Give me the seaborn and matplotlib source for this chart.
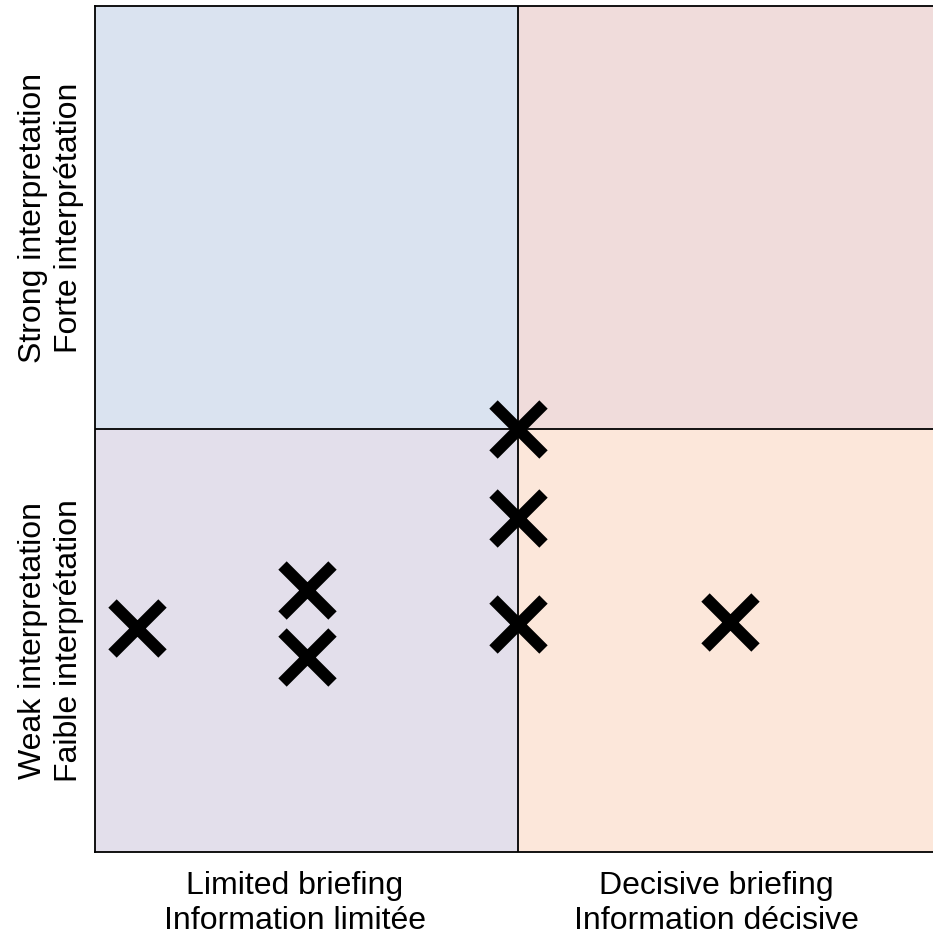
import matplotlib
matplotlib.use("Agg")
import matplotlib.pyplot as plt
from matplotlib.patches import Rectangle
import matplotlib.transforms as mtransforms
import pandas as pd
import seaborn as sns

# points on a 0-10 x 0-10 grid, quadrants split at 5
x_vals = [0.5, 2.5, 2.5, 5.0, 5.0, 5.0, 7.5]
y_vals = [2.65, 3.1, 2.3, 5.0, 3.95, 2.7, 2.72]

x_labels = ["Limited briefing\nInformation limitée", "Decisive briefing\nInformation décisive"]
x_label_pos = [2.36, 7.35]
y_labels = ["Weak interpretation\nFaible interprétation", "Strong interpretation\nForte interprétation"]
y_label_pos = [2.5, 7.5]

# quadrant colours: (x0, y0, colour)
quad_colors = {
    (0, 5): "#dae3f0",   # top left
    (5, 5): "#f0dcdb",   # top right
    (0, 0): "#e3dfeb",   # bottom left
    (5, 0): "#fce7da",   # bottom right
}

sns.set_style("white")
plt.rcParams['font.family'] = ['Liberation Sans', 'DejaVu Sans']
plt.rcParams['text.color'] = 'black'

df = pd.DataFrame({"x": x_vals, "y": y_vals})

fig = plt.figure(figsize=(9.33, 9.39), dpi=100)
ax = fig.add_axes([95/933, 87/939, 846/933, 846/939])
ax.set_xlim(0, 10)
ax.set_ylim(0, 10)

for (x0, y0), c in quad_colors.items():
    ax.add_patch(Rectangle((x0, y0), 5, 5, facecolor=c, edgecolor="none", zorder=0))

ax.axvline(5, color="black", lw=1.3, zorder=1)
ax.axhline(5, color="black", lw=1.3, zorder=1)

sns.scatterplot(data=df, x="x", y="y", marker="x", s=36**2, color="black",
                linewidth=8.5, ax=ax, zorder=3, clip_on=False)

ax.set_xticks([])
ax.set_yticks([])
ax.set_xlabel("")
ax.set_ylabel("")
for sp in ax.spines.values():
    sp.set_color("black")
    sp.set_linewidth(1.3)

tx = mtransforms.blended_transform_factory(ax.transData, ax.transAxes)
for pos, lab in zip(x_label_pos, x_labels):
    ax.text(pos, -0.022, lab, transform=tx, ha="center", va="top", color="black",
            multialignment="center", fontsize=23, linespacing=1.22)

ty = mtransforms.blended_transform_factory(ax.transAxes, ax.transData)
for pos, lab in zip(y_label_pos, y_labels):
    ax.text(-0.052, pos, lab, transform=ty, ha="center", va="center", rotation=90,
            color="black", multialignment="center", fontsize=23, linespacing=1.22)

plt.savefig("out.png", dpi=100)
